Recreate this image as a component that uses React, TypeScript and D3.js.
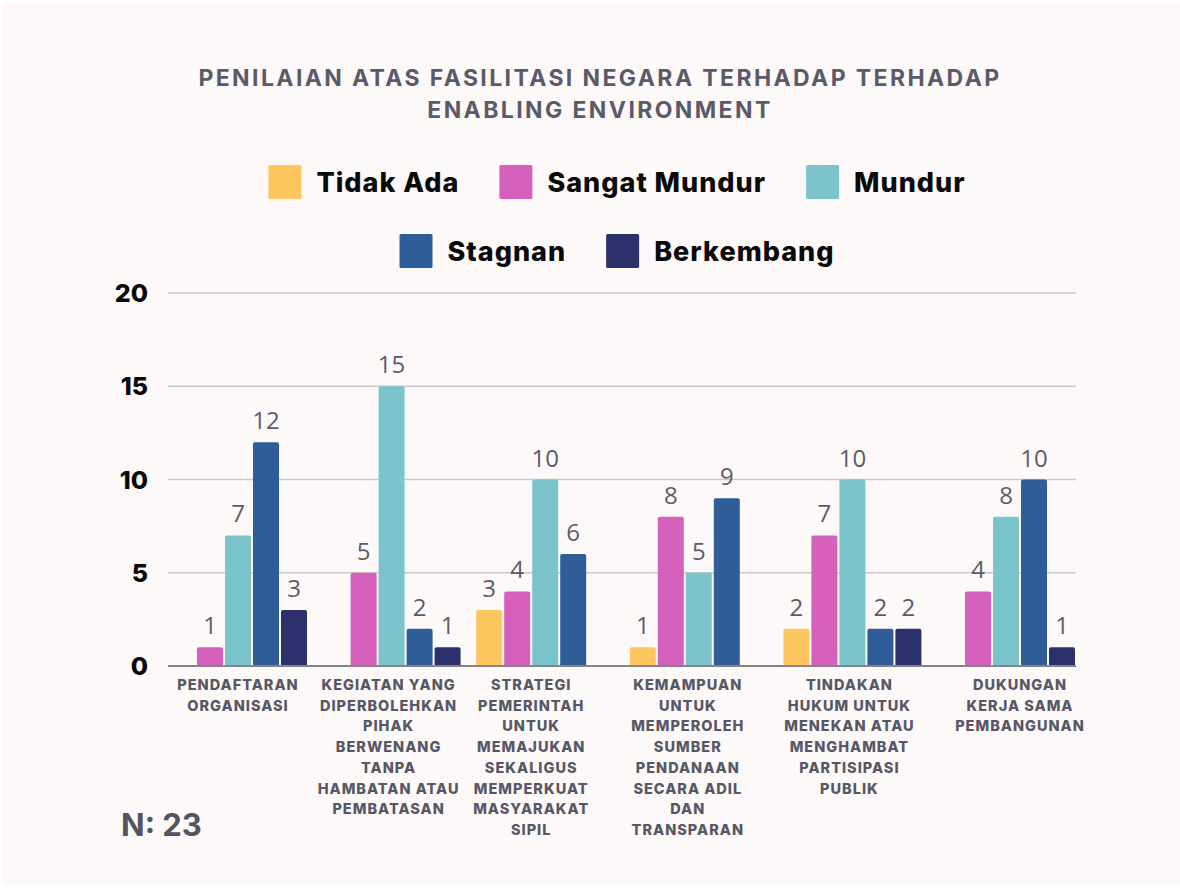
import React, { useEffect, useRef } from "react";
import * as d3 from "d3";

const categories = [
  "Pendaftaran Organisasi",
  "Kegiatan yang Diperbolehkan Pihak Berwenang tanpa Hambatan atau Pembatasan",
  "Strategi Pemerintah untuk Memajukan sekaligus Memperkuat Masyarakat Sipil",
  "Kemampuan untuk Memperoleh Sumber Pendanaan secara Adil dan Transparan",
  "Tindakan Hukum untuk Menekan atau Menghambat Partisipasi Publik",
  "Dukungan Kerja Sama Pembangunan",
];

// tick labels as wrapped in the original
const categoryLines = [
  ["PENDAFTARAN", "ORGANISASI"],
  ["KEGIATAN YANG", "DIPERBOLEHKAN", "PIHAK", "BERWENANG", "TANPA", "HAMBATAN ATAU", "PEMBATASAN"],
  ["STRATEGI", "PEMERINTAH", "UNTUK", "MEMAJUKAN", "SEKALIGUS", "MEMPERKUAT", "MASYARAKAT", "SIPIL"],
  ["KEMAMPUAN", "UNTUK", "MEMPEROLEH", "SUMBER", "PENDANAAN", "SECARA ADIL", "DAN", "TRANSPARAN"],
  ["TINDAKAN", "HUKUM UNTUK", "MENEKAN ATAU", "MENGHAMBAT", "PARTISIPASI", "PUBLIK"],
  ["DUKUNGAN", "KERJA SAMA", "PEMBANGUNAN"],
];

const seriesNames = ["Tidak Ada", "Sangat Mundur", "Mundur", "Stagnan", "Berkembang"];

const tidakAda = [0, 0, 3, 1, 2, 0];
const sangatMundur = [1, 5, 4, 8, 7, 4];
const mundur = [7, 15, 10, 5, 10, 8];
const stagnan = [12, 2, 6, 9, 2, 10];
const berkembang = [3, 1, 0, 0, 2, 1];

const yTicks = [0, 5, 10, 15, 20];

const colors = ["#fec65e", "#d661bd", "#7bc4cc", "#2e5d97", "#2c316c"];

// layout nudges for the wrapped category labels
const labelShift = [0, -3, -14, -11, -3, 14];

export default function App() {
  const svgRef = useRef<SVGSVGElement>(null);

  useEffect(() => {
    document.body.style.margin = "0";
    const width = 1180;
    const height = 888;
    const svg = d3.select(svgRef.current).attr("width", width).attr("height", height);
    svg.selectAll("*").remove();

    svg.append("rect").attr("width", width).attr("height", height).attr("fill", "#ffffff");
    svg
      .append("rect")
      .attr("x", 2)
      .attr("y", 4)
      .attr("width", width - 2)
      .attr("height", 880)
      .attr("fill", "#fdf9f8");

    const values = [tidakAda, sangatMundur, mundur, stagnan, berkembang];
    const gray = "#575766";

    // title
    const title = svg
      .append("text")
      .attr("text-anchor", "middle")
      .attr("fill", "#5b5a69")
      .style("font-family", "Inter, sans-serif")
      .style("font-weight", 700)
      .style("font-size", "23px")
      .style("letter-spacing", "2.4px");
    title.append("tspan").attr("x", 600).attr("y", 86).text("PENILAIAN ATAS FASILITASI NEGARA TERHADAP TERHADAP");
    title.append("tspan").attr("x", 600).attr("y", 118).text("ENABLING ENVIRONMENT");

    // legend
    const rows = [
      [0, 1, 2],
      [3, 4],
    ];
    const rowY = [182, 251];
    const sw = 33;
    rows.forEach((row, ri) => {
      const g = svg.append("g");
      let x = 0;
      row.forEach((si, k) => {
        g.append("rect")
          .attr("x", x)
          .attr("y", rowY[ri] - 17)
          .attr("width", sw)
          .attr("height", 34)
          .attr("rx", 1.5)
          .attr("fill", colors[si]);
        const t = g
          .append("text")
          .attr("x", x + sw + 15)
          .attr("y", rowY[ri])
          .attr("dy", "0.36em")
          .attr("fill", "#0a0a0a")
          .style("font-family", "Inter, sans-serif")
          .style("font-weight", 800)
          .style("font-size", "27px")
          .style("letter-spacing", "1px")
          .text(seriesNames[si]);
        const w = (t.node() as SVGTextElement).getComputedTextLength();
        x += sw + 15 + w + (k < row.length - 1 ? 40 : 0);
      });
      g.attr("transform", `translate(${617 - x / 2},0)`);
    });

    // scales
    const left = 169;
    const right = 1075;
    const y = d3.scaleLinear().domain([0, 20]).range([666, 293]);
    const x0 = d3.scaleBand<number>().domain(d3.range(categories.length)).range([left, right]).paddingInner(0.1016);
    const x1 = d3
      .scaleBand<number>()
      .domain(d3.range(seriesNames.length))
      .range([0, x0.bandwidth()])
      .paddingInner(0.0714);

    // grid
    svg
      .append("g")
      .selectAll("line")
      .data(yTicks.filter((d) => d > 0))
      .join("line")
      .attr("x1", left - 1)
      .attr("x2", right + 1)
      .attr("y1", (d) => y(d))
      .attr("y2", (d) => y(d))
      .attr("stroke", "#c9c9c9")
      .attr("stroke-width", 1.5);

    svg
      .append("g")
      .selectAll("text")
      .data(yTicks)
      .join("text")
      .attr("x", 148)
      .attr("y", (d) => y(d))
      .attr("dy", "0.36em")
      .attr("text-anchor", "end")
      .attr("fill", "#0a0a0a")
      .style("font-family", "Inter, sans-serif")
      .style("font-weight", 800)
      .style("font-size", "25px")
      .text((d) => d);

    // bars
    const r = 2;
    const groups = svg
      .append("g")
      .selectAll("g")
      .data(categories.map((_, i) => i))
      .join("g")
      .attr("transform", (i) => `translate(${x0(i)},0)`);

    groups
      .selectAll("path")
      .data((i) => values.map((s, si) => ({ si, v: s[i] })).filter((d) => d.v > 0))
      .join("path")
      .attr("fill", (d) => colors[d.si])
      .attr("d", (d) => {
        const bx = x1(d.si)!;
        const bw = x1.bandwidth();
        const top = y(d.v);
        const bot = y(0);
        return `M${bx},${bot}V${top + r}Q${bx},${top} ${bx + r},${top}H${bx + bw - r}Q${bx + bw},${top} ${bx + bw},${top + r}V${bot}Z`;
      });

    groups
      .selectAll("text")
      .data((i) => values.map((s, si) => ({ si, v: s[i] })).filter((d) => d.v > 0))
      .join("text")
      .attr("x", (d) => x1(d.si)! + x1.bandwidth() / 2)
      .attr("y", (d) => y(d.v) - 13)
      .attr("text-anchor", "middle")
      .attr("fill", "#5c5c68")
      .style("font-family", "'Open Sans', sans-serif")
      .style("font-weight", 400)
      .style("font-size", "24px")
      .text((d) => d.v);

    // baseline
    svg
      .append("line")
      .attr("x1", left - 1)
      .attr("x2", right + 1)
      .attr("y1", y(0))
      .attr("y2", y(0))
      .attr("stroke", "#858585")
      .attr("stroke-width", 2);

    // category labels
    categoryLines.forEach((lines, i) => {
      const cx = x0(i)! + x0.bandwidth() / 2 + labelShift[i];
      const t = svg
        .append("text")
        .attr("text-anchor", "middle")
        .attr("fill", gray)
        .style("font-family", "Inter, sans-serif")
        .style("font-weight", 800)
        .style("font-size", "14.5px")
        .style("letter-spacing", "1px");
      lines.forEach((ln, k) => {
        t.append("tspan").attr("x", cx).attr("y", 690 + k * 20.7).text(ln);
      });
    });

    svg
      .append("text")
      .attr("x", 121)
      .attr("y", 836)
      .attr("fill", "#535362")
      .style("font-family", "Inter, sans-serif")
      .style("font-weight", 700)
      .style("font-size", "31px")
      .text("N: 23");
  }, []);

  return (
    <div>
      <svg ref={svgRef} style={{ display: "block" }} />
    </div>
  );
}
